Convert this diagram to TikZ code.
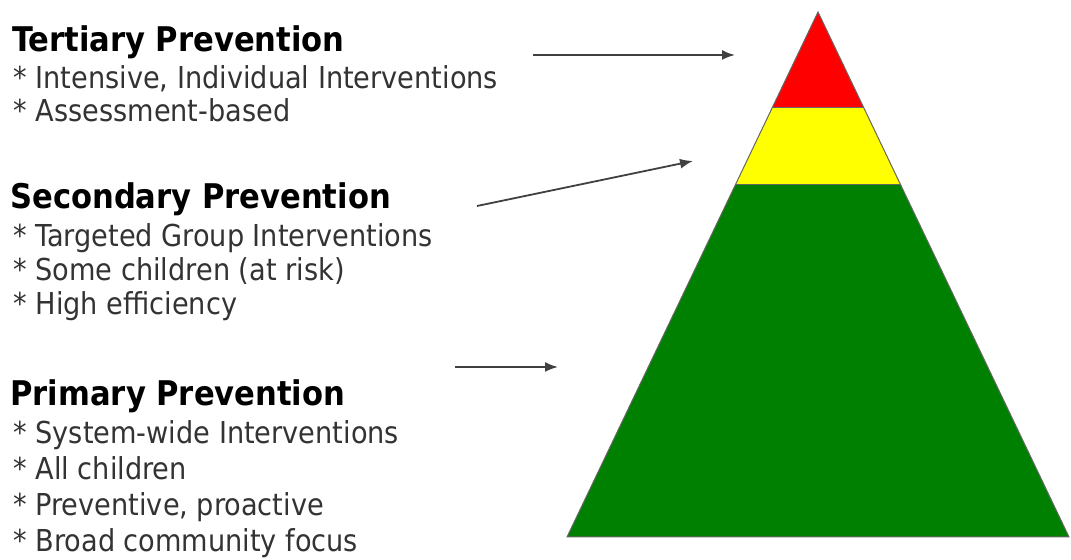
\documentclass[tikz,border=0pt]{standalone}
\usepackage{fontspec}
\setmainfont{DejaVu Sans Condensed}
\usepackage{tikz}
\usetikzlibrary{arrows.meta,calc}

\definecolor{tierred}{RGB}{255,0,0}
\definecolor{tieryellow}{RGB}{255,255,0}
\definecolor{tiergreen}{RGB}{0,128,0}

\begin{document}
\begin{tikzpicture}[
  x=0.5pt, y=-0.5pt,
  head/.style={anchor=base west, inner sep=0pt, font=\fontsize{17}{20}\selectfont\bfseries},
  item/.style={anchor=base west, inner sep=0pt, text=black!80, font=\fontsize{15.1}{18}\selectfont},
  arr/.style={-{Latex[length=6.5pt,width=5pt]}, line width=0.9pt, black!75},
  tier/.style={draw=black!60, line width=0.5pt}]
\useasboundingbox (0,0) rectangle (1071,560);

% pyramid
\coordinate (apex) at (818,12);
\coordinate (bl) at (567,537);
\coordinate (br) at (1069,537);
\coordinate (rl) at ($(apex)!0.181!(bl)$);
\coordinate (rr) at ($(apex)!0.181!(br)$);
\coordinate (yl) at ($(apex)!0.3295!(bl)$);
\coordinate (yr) at ($(apex)!0.3295!(br)$);
\fill[tiergreen] (yl) -- (yr) -- (br) -- (bl) -- cycle;
\fill[tieryellow] (rl) -- (rr) -- (yr) -- (yl) -- cycle;
\fill[tierred] (apex) -- (rr) -- (rl) -- cycle;
\draw[tier] (apex) -- (br) -- (bl) -- cycle;
\draw[tier] (rl) -- (rr);
\draw[tier] (yl) -- (yr);

% tertiary
\node[head] (ter) at (12,52) {Tertiary Prevention};
\node[item] (ter1) at (13,89) {* Intensive, Individual Interventions};
\node[item] (ter2) at (13,122) {* Assessment-based};

% secondary
\node[head] (sec) at (10,209) {Secondary Prevention};
\node[item] (sec1) at (13,247) {* Targeted Group Interventions};
\node[item] (sec2) at (13,281) {* Some children (at risk)};
\node[item] (sec3) at (13,315) {* High efficiency};

% primary
\node[head] (pri) at (10,406) {Primary Prevention};
\node[item] (pri1) at (13,444) {* System-wide Interventions};
\node[item] (pri2) at (13,480) {* All children};
\node[item] (pri3) at (13,516) {* Preventive, proactive};
\node[item] (pri4) at (13,552) {* Broad community focus};

% arrows
\coordinate (terfrom) at (533,55);
\coordinate (terto) at (735,55);
\coordinate (secfrom) at (477,206);
\coordinate (secto) at (693,161);
\coordinate (prifrom) at (455,367);
\coordinate (prito) at (558,367);
\draw[arr] (terfrom) -- (terto);
\draw[arr] (secfrom) -- (secto);
\draw[arr] (prifrom) -- (prito);
\end{tikzpicture}
\end{document}
